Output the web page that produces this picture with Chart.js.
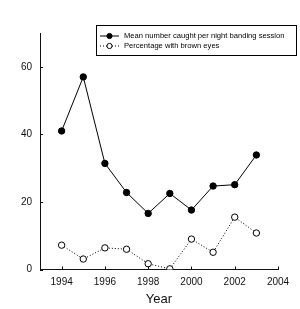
<!DOCTYPE html>
<html><head><meta charset="utf-8">
<script src="https://cdn.jsdelivr.net/npm/chart.js@4"></script>
<style>html,body{margin:0;padding:0;background:#fff;}#wrap{width:300px;height:309px;}</style>
</head><body><div id="wrap"><canvas id="c" width="300" height="309"></canvas></div>
<script>
const years = [1994,1995,1996,1997,1998,1999,2000,2001,2002,2003];
const meanCaught = [41,57,31.4,22.8,16.6,22.5,17.6,24.7,25.1,33.9];
const pctBrown = [7.2,3.1,6.4,6.0,1.7,0.2,9.0,5.1,15.5,10.8];
const xTickValues = [1994,1996,1998,2000,2002,2004];
const yTickValues = [0,20,40,60];
const seriesLabels = ['Mean number caught per night banding session','Percentage with brown eyes'];

const innerTicks = {
  id:'innerTicks',
  afterDraw(chart){
    const ctx=chart.ctx, x=chart.scales.x, y=chart.scales.y;
    ctx.save(); ctx.strokeStyle='#111'; ctx.lineWidth=1;
    ctx.beginPath();
    xTickValues.forEach(v=>{const px=Math.round(x.getPixelForValue(v))+0.5; ctx.moveTo(px,y.bottom); ctx.lineTo(px,y.bottom-3);});
    yTickValues.forEach(v=>{const py=Math.round(y.getPixelForValue(v))+0.5; ctx.moveTo(x.left,py); ctx.lineTo(x.left+3,py);});
    ctx.stroke();
    // legend
    const bx=96.5, by=25.5, bw=200, bh=30;
    ctx.lineWidth=1; ctx.strokeStyle='#000'; ctx.fillStyle='#fff';
    ctx.fillRect(bx,by,bw,bh); ctx.strokeRect(bx,by,bw,bh);
    const rows=[36,46];
    ctx.font='7.6px "Liberation Sans", Arial, sans-serif';
    ctx.textBaseline='middle'; ctx.textAlign='left';
    rows.forEach((ry,i)=>{
      ctx.beginPath(); ctx.strokeStyle='#000';
      ctx.setLineDash(i===0?[]:[1,2]);
      ctx.moveTo(100,ry); ctx.lineTo(119,ry); ctx.stroke();
      ctx.setLineDash([]);
      ctx.beginPath(); ctx.arc(109.5,ry,2.6,0,Math.PI*2);
      ctx.fillStyle=i===0?'#000':'#fff'; ctx.fill(); ctx.stroke();
      ctx.fillStyle='#000'; ctx.fillText(seriesLabels[i],124,ry);
    });
    ctx.restore();
  }
};

new Chart(document.getElementById('c'),{
  type:'line',
  data:{datasets:[
    {label:seriesLabels[0],data:years.map((yr,i)=>({x:yr,y:meanCaught[i]})),borderColor:'#000',borderWidth:1,pointBackgroundColor:'#000',pointBorderColor:'#000',pointRadius:3.2,pointBorderWidth:1,tension:0},
    {label:seriesLabels[1],data:years.map((yr,i)=>({x:yr,y:pctBrown[i]})),borderColor:'#000',borderWidth:1,borderDash:[1,2],pointBackgroundColor:'#fff',pointBorderColor:'#000',pointRadius:3.2,pointBorderWidth:1,tension:0}
  ]},
  options:{
    responsive:false,animation:false,
    layout:{padding:{top:33,right:22,left:0,bottom:0}},
    plugins:{legend:{display:false},tooltip:{enabled:false}},
    scales:{
      x:{type:'linear',min:1993,max:2004,
        afterBuildTicks:s=>{s.ticks=xTickValues.map(v=>({value:v}));},
        afterFit:s=>{s.height=39.5;},
        grid:{display:false,drawTicks:false},
        border:{display:true,color:'#111',width:1},
        ticks:{padding:7,color:'#111',font:{family:'"Liberation Sans", Arial, sans-serif',size:10},maxRotation:0,autoSkip:false,callback:v=>String(v)},
        title:{display:true,text:'Year',color:'#111',font:{family:'"Liberation Sans", Arial, sans-serif',size:13},padding:{top:0,bottom:2}}
      },
      y:{type:'linear',min:0,max:70,
        afterBuildTicks:s=>{s.ticks=yTickValues.map(v=>({value:v}));},
        afterFit:s=>{s.width=40;},
        grid:{display:false,drawTicks:false},
        border:{display:true,color:'#111',width:1},
        ticks:{padding:8,color:'#111',font:{family:'"Liberation Sans", Arial, sans-serif',size:10},callback:v=>String(v)}
      }
    }
  },
  plugins:[innerTicks]
});
</script></body></html>
